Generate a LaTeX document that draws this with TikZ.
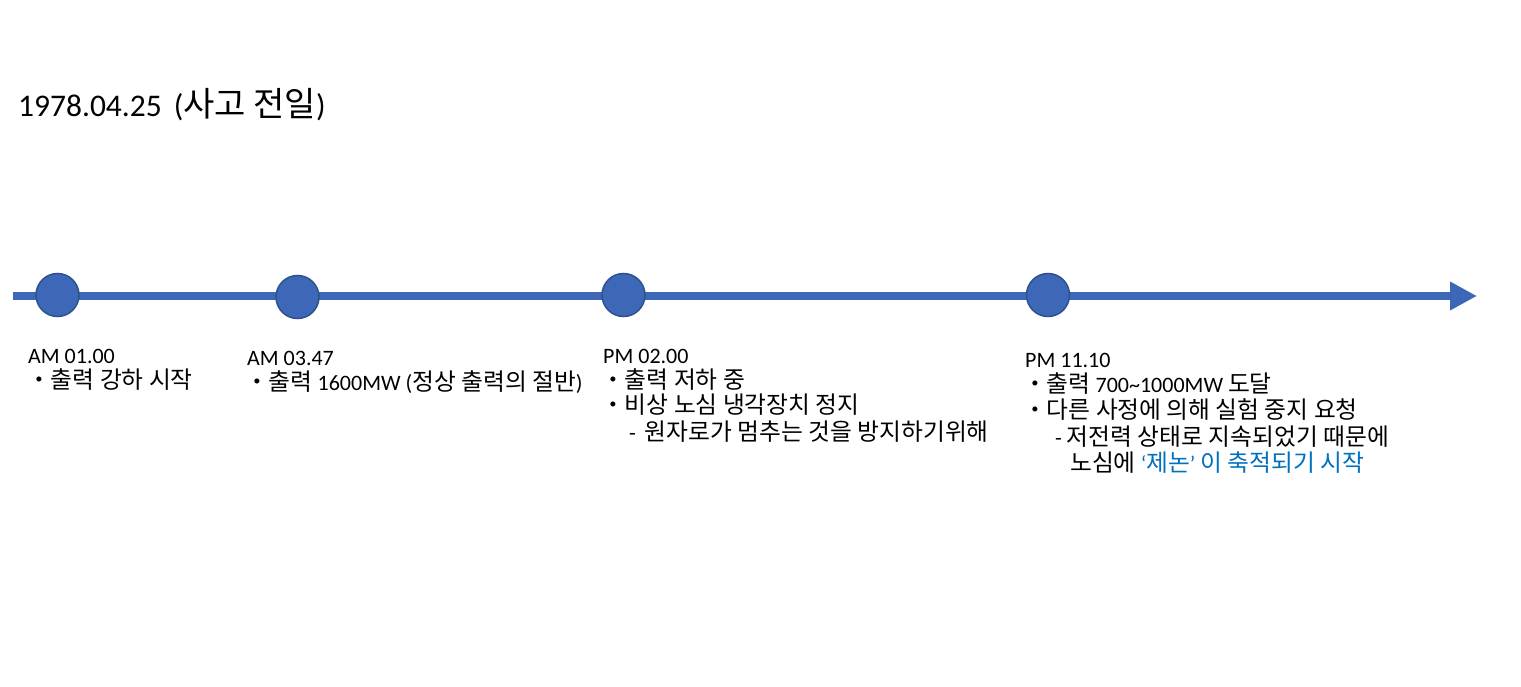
\documentclass[tikz,border=0pt]{standalone}
\usepackage{fontspec}
\setmainfont{Carlito}
\newfontfamily\ko[Scale=1.08]{Noto Sans CJK KR}
\usetikzlibrary{arrows.meta}
\definecolor{tlblue}{HTML}{3C68B7}
\definecolor{tledge}{HTML}{2F528F}
\definecolor{hlblue}{HTML}{0070C0}
\tikzset{
  txt/.style={anchor=base west, inner sep=0pt, font=\fontsize{22}{26}\selectfont},
  ttl/.style={anchor=base west, inner sep=0pt, font=\fontsize{31.5}{36}\selectfont},
  event/.style={circle, minimum size=43pt, inner sep=0pt, fill=tlblue, draw=tledge, line width=1.5pt},
  axis/.style={draw=tlblue, line width=8.5pt, -{Triangle[length=27pt,width=27pt]}}
}
\begin{document}
\begin{tikzpicture}[x=1pt,y=-1pt]
\useasboundingbox (0,0) rectangle (1521,687);
\fill[white] (0,0) rectangle (1521,687);
\node[ttl] (title) at (18,117) {1978.04.25\hspace{12pt}({\ko 사고 전일})};
\coordinate (start) at (13,296);
\coordinate (end) at (1477,296);
\draw[axis] (start) -- (end);
\node[event] (e1) at (57.5,295) {};
\node[event] (e2) at (297.5,297) {};
\node[event] (e3) at (623.5,295) {};
\node[event] (e4) at (1048,295) {};
% group 1
\node[txt] (t1a) at (28,363) {AM 01.00};
\node[txt] (t1b) at (27,388) {\ko ・출력 강하 시작};
% group 2
\node[txt] (t2a) at (247,365) {AM 03.47};
\node[txt] (t2b) at (245,390) {{\ko ・출력} 1600MW ({\ko 정상 출력의 절반})};
% group 3
\node[txt] (t3a) at (603,363) {PM 02.00};
\node[txt] (t3b) at (601,388) {\ko ・출력 저하 중};
\node[txt] (t3c) at (601,413) {\ko ・비상 노심 냉각장치 정지};
\node[txt] (t3d) at (629,440) {-\hspace{9pt}{\ko 원자로가 멈추는 것을 방지하기위해}};
% group 4
\node[txt] (t4a) at (1025,367) {PM 11.10};
\node[txt] (t4b) at (1023,392) {{\ko ・출력} 700\textasciitilde 1000MW {\ko 도달}};
\node[txt] (t4c) at (1023,418) {\ko ・다른 사정에 의해 실험 중지 요청};
\node[txt] (t4d) at (1055,445) {- {\ko 저전력 상태로 지속되었기 때문에}};
\node[txt] (t4e) at (1070,471) {{\ko 노심에} \textcolor{hlblue}{‘{\ko 제논}’ {\ko 이 축적되기 시작}}};
\end{tikzpicture}
\end{document}
